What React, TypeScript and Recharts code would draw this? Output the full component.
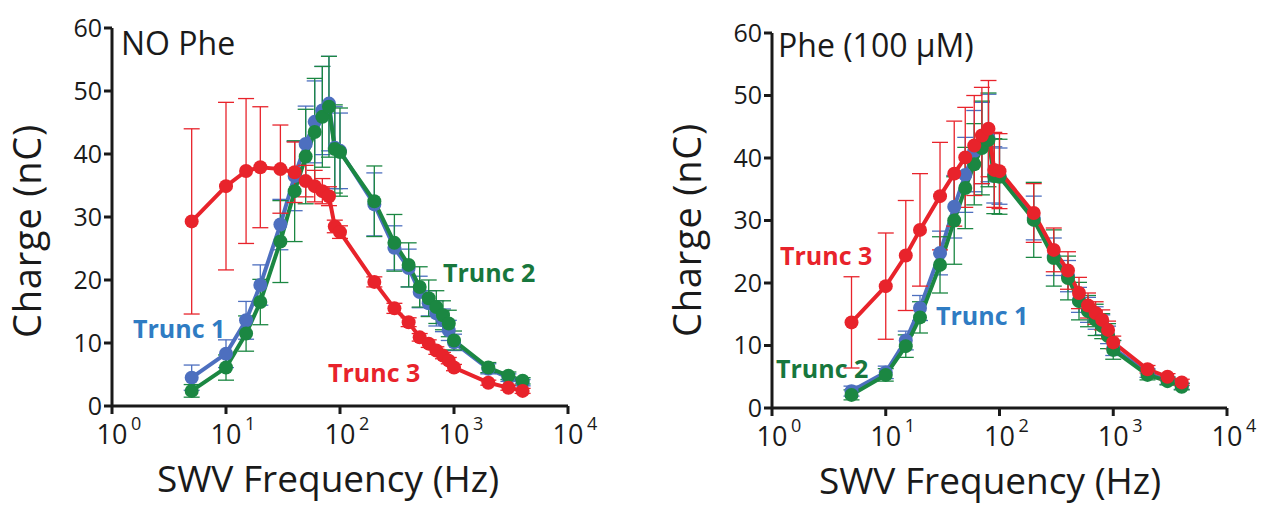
import React from 'react';
import { LineChart, Line, XAxis, YAxis, ErrorBar } from 'recharts';

// frequencies (Hz) shared by every series
const FREQS = [5, 10, 15, 20, 30, 40, 50, 60, 70, 80, 90, 100, 200, 300, 400, 500, 600, 700, 800, 900, 1000, 2000, 3000, 4000];
const X_TICKS = [1, 10, 100, 1000, 10000];
const Y_TICKS = [0, 10, 20, 30, 40, 50, 60];

// NO Phe panel
const NP_T1 = [4.5, 8.3, 13.6, 19.2, 28.8, 36.5, 41.6, 45.1, 46.9, 48.0, 41.0, 40.5, 32.0, 25.1, 21.9, 18.1, 16.3, 14.7, 13.6, 12.0, 10.1, 5.9, 4.5, 3.7];
const NP_T1_ERR = [2.0, 2.2, 3.0, 3.2, 4.0, 5.5, 6.0, 6.5, 7.0, 7.5, 6.5, 6.0, 5.0, 3.5, 3.0, 2.5, 2.0, 2.0, 1.8, 1.6, 1.3, 0.8, 0.6, 0.5];
const NP_T2 = [2.4, 6.1, 11.5, 16.5, 26.1, 34.1, 39.6, 43.5, 45.9, 47.5, 40.8, 40.3, 32.5, 25.9, 22.4, 18.9, 17.1, 15.7, 14.4, 13.1, 10.4, 6.1, 4.8, 4.0];
const NP_T2_ERR = [1.0, 2.0, 2.8, 3.6, 6.5, 8.0, 7.5, 8.5, 8.0, 8.0, 7.0, 7.0, 5.6, 4.5, 3.5, 3.2, 2.9, 2.6, 2.3, 2.1, 1.5, 0.8, 0.6, 0.5];
const NP_T3 = [29.3, 34.9, 37.3, 37.9, 37.6, 37.1, 35.7, 34.9, 34.1, 33.3, 28.5, 27.6, 19.7, 15.5, 13.3, 10.9, 9.9, 8.8, 8.0, 7.2, 6.1, 3.7, 2.9, 2.4];
const NP_T3_ERR = [14.7, 13.3, 11.5, 9.6, 7.0, 4.8, 2.5, 2.5, 2.0, 1.5, 1.0, 1.0, 0.8, 0.8, 0.7, 0.6, 0.6, 0.6, 0.5, 0.5, 0.5, 0.4, 0.4, 0.4];

// Phe (100 uM) panel
const P_T1 = [2.7, 5.7, 10.8, 16.0, 24.8, 32.2, 37.3, 41.1, 42.4, 43.2, 37.3, 37.1, 30.4, 24.2, 21.1, 17.3, 15.7, 14.4, 13.3, 11.7, 9.6, 5.6, 4.4, 3.5];
const P_T1_ERR = [0.8, 1.0, 1.5, 2.0, 3.5, 5.0, 6.0, 6.5, 6.5, 7.0, 4.5, 4.5, 3.5, 3.0, 2.5, 2.0, 2.0, 1.8, 1.6, 1.4, 1.2, 0.7, 0.6, 0.5];
const P_T2 = [2.1, 5.3, 9.9, 14.5, 22.9, 30.0, 35.2, 39.0, 41.6, 42.9, 37.1, 37.0, 30.1, 24.0, 20.8, 17.1, 15.5, 14.1, 13.1, 11.5, 9.3, 5.3, 4.3, 3.4];
const P_T2_ERR = [0.8, 1.0, 1.8, 2.5, 4.5, 7.0, 6.5, 6.5, 7.5, 7.5, 6.0, 6.0, 6.0, 4.5, 3.5, 3.0, 2.5, 2.5, 2.0, 2.0, 1.5, 0.8, 0.6, 0.5];
const P_T3 = [13.7, 19.5, 24.4, 28.5, 33.9, 37.5, 40.1, 42.0, 43.6, 44.7, 38.1, 37.9, 31.2, 25.3, 22.0, 18.4, 16.4, 15.2, 14.1, 12.5, 10.5, 6.2, 5.0, 4.1];
const P_T3_ERR = [7.3, 8.5, 8.8, 9.0, 8.6, 8.4, 8.0, 8.0, 7.7, 7.7, 6.0, 6.0, 4.7, 3.5, 3.0, 2.5, 2.0, 1.8, 1.6, 1.4, 1.0, 0.6, 0.5, 0.5];

const RED = '#e8232b';
const BLUE = '#4d6fbf';
const GREEN = '#1b8742';
const INK = '#1a1a1a';
const FONT = '"Open Sans", sans-serif';

const build = (t1: number[], e1: number[], t2: number[], e2: number[], t3: number[], e3: number[]) =>
  FREQS.map((f, i) => ({ f, t1: t1[i], e1: e1[i], t2: t2[i], e2: e2[i], t3: t3[i], e3: e3[i] }));

const noPheData = build(NP_T1, NP_T1_ERR, NP_T2, NP_T2_ERR, NP_T3, NP_T3_ERR);
const pheData = build(P_T1, P_T1_ERR, P_T2, P_T2_ERR, P_T3, P_T3_ERR);

const PowTick = (props: any) => {
  const { x, y, payload } = props;
  const exp = Math.round(Math.log10(payload.value));
  return (
    <g>
      <text x={x} y={y + 28} textAnchor="middle" fontSize={27} fill={INK} fontFamily={FONT}>10</text>
      <text x={x + 19} y={y + 14} fontSize={18} fill={INK} fontFamily={FONT}>{exp}</text>
    </g>
  );
};

const series = (key: string, errKey: string, color: string) => (
  <Line
    key={key}
    type="linear"
    dataKey={key}
    stroke={color}
    strokeWidth={4}
    dot={{ r: 7, fill: color, stroke: color, strokeWidth: 0 }}
    activeDot={false}
    isAnimationActive={false}
  >
    <ErrorBar dataKey={errKey} direction="y" width={8} strokeWidth={1.3} stroke={color} />
  </Line>
);

const Panel = ({ data, margin, width }: { data: any[]; margin: any; width: number }) => (
  <LineChart width={width} height={506} data={data} margin={margin}>
    <XAxis
      dataKey="f"
      type="number"
      scale="log"
      domain={[1, 10000]}
      ticks={X_TICKS}
      height={60}
      axisLine={{ stroke: INK, strokeWidth: 3 }}
      tickLine={{ stroke: INK, strokeWidth: 3 }}
      tickSize={8}
      tick={<PowTick />}
    />
    <YAxis
      type="number"
      domain={[0, 60]}
      ticks={Y_TICKS}
      width={60}
      axisLine={{ stroke: INK, strokeWidth: 3 }}
      tickLine={{ stroke: INK, strokeWidth: 3 }}
      tickSize={8}
      tickMargin={2}
      tick={{ fill: INK, fontSize: 25, fontFamily: FONT }}
    />
    {series('t1', 'e1', BLUE)}
    {series('t2', 'e2', GREEN)}
    {series('t3', 'e3', RED)}
  </LineChart>
);

export default function App() {
  const label = { fontFamily: FONT, fontWeight: 700, fontSize: 25 };
  const title = { fontFamily: FONT, fontSize: 37, fill: INK };
  const ytitle = { fontFamily: FONT, fontSize: 38, fill: INK, letterSpacing: 0.8 };
  return (
    <div style={{ position: 'absolute', left: 0, top: 0, width: 1263, height: 506, background: '#fff' }}>
      <div style={{ position: 'absolute', left: 0, top: 0 }}>
        <Panel data={noPheData} width={600} margin={{ top: 28, right: 32, left: 52, bottom: 40 }} />
      </div>
      <div style={{ position: 'absolute', left: 640, top: 0 }}>
        <Panel data={pheData} width={620} margin={{ top: 33, right: 33, left: 72, bottom: 38 }} />
      </div>
      <svg width={1263} height={506} style={{ position: 'absolute', left: 0, top: 0, pointerEvents: 'none' }}>
        <text x={121} y={55} fontFamily={FONT} fontSize={32} fill={INK}>NO Phe</text>
        <text x={778} y={57} fontFamily={FONT} fontSize={32} fill={INK}>Phe (100 μM)</text>

        <text x={133} y={338} {...label} fill="#2f7cc3">Trunc 1</text>
        <text x={443} y={282} {...label} fill="#17773d">Trunc 2</text>
        <text x={328} y={382} {...label} fill={RED}>Trunc 3</text>

        <text x={780} y={265} {...label} fill={RED}>Trunc 3</text>
        <text x={936} y={325} {...label} fill="#2f7cc3">Trunc 1</text>
        <text x={776} y={378} {...label} fill="#17773d">Trunc 2</text>

        <text x={328} y={492} textAnchor="middle" {...title}>SWV Frequency (Hz)</text>
        <text x={990} y={494} textAnchor="middle" {...title}>SWV Frequency (Hz)</text>

        <text transform="translate(41,231) rotate(-90)" textAnchor="middle" {...ytitle}>Charge (nC)</text>
        <text transform="translate(701,230) rotate(-90)" textAnchor="middle" {...ytitle}>Charge (nC)</text>
      </svg>
    </div>
  );
}
